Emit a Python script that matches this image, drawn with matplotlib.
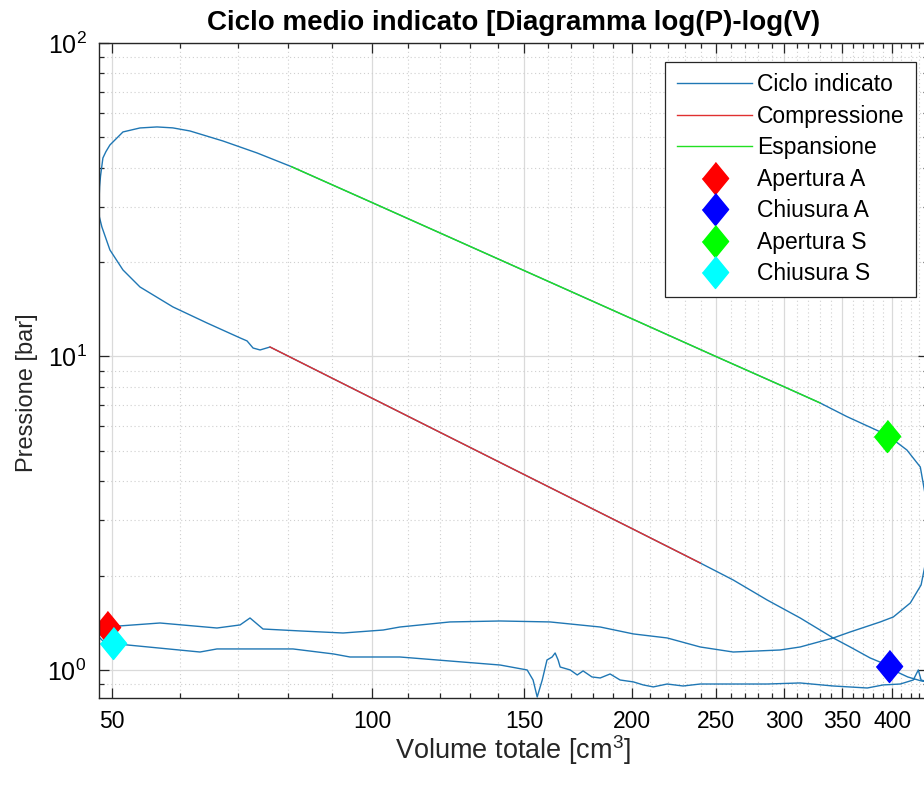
import matplotlib
matplotlib.use("Agg")
import matplotlib.pyplot as plt
from matplotlib.ticker import FixedLocator, FixedFormatter, NullFormatter

plt.rcParams['font.family'] = ['Liberation Sans', 'DejaVu Sans']
plt.rcParams['mathtext.fontset'] = 'custom'
plt.rcParams['mathtext.rm'] = 'Liberation Sans'
plt.rcParams['mathtext.it'] = 'Liberation Sans:italic'
plt.rcParams['mathtext.bf'] = 'Liberation Sans:bold'

# ciclo indicato: aspirazione -> compressione -> espansione -> scarico
V_ciclo = [48.3, 48.81, 50.13, 52.04, 63.22, 66.15, 81.0, 90.2, 94.3, 107.7, 123.1,
           140.7, 151.2, 153.6, 155.3, 157.4, 159.4, 161.6, 162.9, 164.2, 165.1, 169.6,
           172.8, 175.5, 179.7, 183.7, 188.6, 193.7, 200.7, 206.0, 211.6, 219.6, 229.1,
           239.8, 286.6, 313.0, 341.8, 374.3, 390.6, 408.7, 423.1, 428.8, 432.0, 440.0,
           # compressione
           432.0, 416.9, 405.4, 397.0, 377.2, 357.6, 341.8, 313.0, 286.6, 261.8, 239.8,
           200.0, 150.0, 100.0, 76.2, 74.2, 72.83, 71.67, 70.35, 64.41, 58.82, 53.88,
           51.49, 49.73, 48.68, 48.35, 48.3,
           # combustione / espansione
           48.38, 48.5, 48.81, 49.2, 49.73, 50.63, 51.49, 53.88, 56.38, 58.8, 61.55,
           67.21, 73.61, 80.7, 100.0, 150.0, 200.0, 250.0, 300.0, 330.0, 354.5, 394.5,
           416.0, 431.1, 437.8, 440.0,
           # scarico
           437.8, 432.0, 419.8, 401.2, 387.5, 357.6, 341.8, 313.0, 296.7, 261.8, 239.8,
           219.6, 200.7, 183.7, 160.7, 140.7, 123.1, 107.7, 103.0, 92.56, 82.53, 74.79,
           72.24, 70.35, 66.15, 56.83, 51.07, 49.34, 48.42, 48.3]
P_ciclo = [1.274, 1.237, 1.219, 1.202, 1.141, 1.167, 1.167, 1.125, 1.100, 1.100, 1.068,
           1.037, 1.000, 0.929, 0.820, 0.929, 1.076, 1.100, 1.133, 1.076, 1.022, 1.000,
           0.964, 0.993, 0.950, 0.943, 0.971, 0.929, 0.916, 0.896, 0.883, 0.902, 0.889,
           0.902, 0.902, 0.909, 0.889, 0.876, 0.896, 0.902, 0.929, 1.000, 0.929, 0.916,
           0.923, 0.950, 0.985, 1.030, 1.092, 1.184, 1.265, 1.465, 1.672, 1.937, 2.194,
           2.823, 4.20, 7.36, 10.72, 10.49, 10.64, 11.21, 11.46, 12.79, 14.39, 16.66,
           18.88, 21.87, 25.88, 27.9, 30.88,
           34.8, 37.6, 42.97, 45.0, 47.27, 49.66, 52.02, 53.57, 53.97, 53.6, 52.40,
           48.68, 44.58, 40.3, 30.97, 18.79, 13.18, 10.0, 8.0, 7.11, 6.43, 5.62,
           5.03, 4.44, 3.49, 2.80,
           2.243, 1.867, 1.636, 1.476, 1.423, 1.322, 1.265, 1.184, 1.158, 1.141, 1.184,
           1.265, 1.303, 1.371, 1.423, 1.433, 1.423, 1.371, 1.341, 1.312, 1.332, 1.351,
           1.465, 1.392, 1.361, 1.412, 1.382, 1.361, 1.322, 1.274]

V_comp = [76.2, 100.0, 150.0, 200.0, 239.8]
P_comp = [10.72, 7.36, 4.20, 2.823, 2.194]

V_esp = [80.7, 100.0, 150.0, 200.0, 250.0, 300.0, 330.0]
P_esp = [40.3, 30.97, 18.79, 13.18, 10.0, 8.0, 7.11]

# fasatura valvole (V, P)
punti = [('Apertura A', 49.4, 1.37, '#ff0000'),
         ('Chiusura A', 397.0, 1.03, '#0000ff'),
         ('Apertura S', 394.5, 5.58, '#00ff00'),
         ('Chiusura S', 50.1, 1.222, '#00ffff')]

x_ticks = [50, 100, 150, 200, 250, 300, 350, 400]
x_minor = [v for v in range(60, 440, 10) if v % 50 != 0]

fig = plt.figure(figsize=(9.24, 7.87), dpi=100)
ax = fig.add_axes([0.1071, 0.1131, 0.8972, 0.8323])

ax.plot(V_ciclo, P_ciclo, color='#1f77b4', lw=1.0, label='Ciclo indicato')
ax.plot(V_comp, P_comp, color='#e03030', lw=1.0, label='Compressione')
ax.plot(V_esp, P_esp, color='#22e022', lw=1.0, label='Espansione')
rombo = [(0, 1), (0.82, 0), (0, -1), (-0.82, 0)]
for nome, v, p, c in punti:
    ax.plot([v], [p], ls='none', marker=rombo, ms=23, color=c, mec=c, label=nome)

ax.set_xscale('log')
ax.set_yscale('log')
ax.set_xlim(48.3, 440)
ax.set_ylim(0.814, 100)

ax.xaxis.set_major_locator(FixedLocator(x_ticks))
ax.xaxis.set_major_formatter(FixedFormatter([str(t) for t in x_ticks]))
ax.xaxis.set_minor_locator(FixedLocator(x_minor))
ax.xaxis.set_minor_formatter(NullFormatter())

ax.grid(which='major', color='#dadada', lw=0.9, ls='-')
ax.grid(which='minor', color='#cfcfcf', lw=0.8, ls=(0, (1, 2.5)))
ax.set_axisbelow(True)

ax.tick_params(which='both', direction='in', top=True, right=True, labelsize=16.5,
               width=0.9, color='#262626')
ax.tick_params(which='major', length=7)
ax.tick_params(which='minor', length=3.5)
ax.tick_params(axis='x', pad=9)
ax.tick_params(axis='y', labelsize=18, pad=9)
for s in ax.spines.values():
    s.set_linewidth(1.0)
    s.set_color('#262626')

ax.set_title('Ciclo medio indicato [Diagramma log(P)-log(V)', fontsize=20,
             fontweight='bold', pad=9)
ax.set_xlabel('Volume totale [cm$^3$]', fontsize=19.5, labelpad=0, color='#262626')
ax.set_ylabel('Pressione [bar]', fontsize=17, color='#262626')
ax.yaxis.set_label_coords(-0.0736, 0.466)

leg = ax.legend(loc='upper right', bbox_to_anchor=(916 / 924, 1 - 62 / 787),
                bbox_transform=fig.transFigure, borderaxespad=0, fontsize=16.5,
                handlelength=3.3, handletextpad=0.2, labelspacing=0.37,
                borderpad=0.5, fancybox=False, framealpha=1, edgecolor='#262626')
leg.get_frame().set_linewidth(0.9)

fig.savefig('out.png', dpi=100)
